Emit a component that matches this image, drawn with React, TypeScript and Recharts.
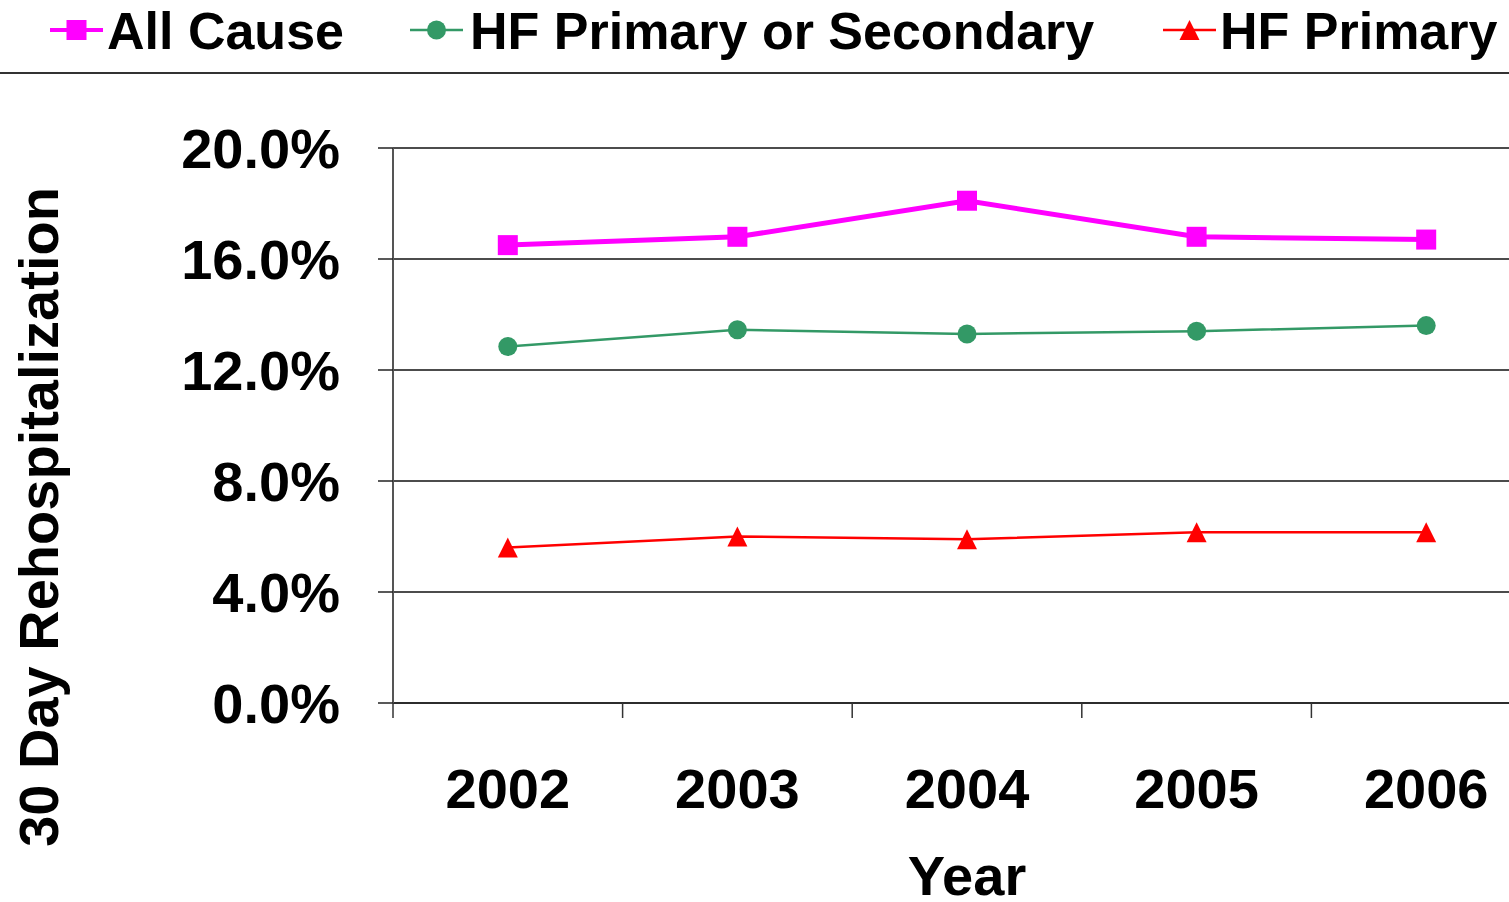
import { LineChart, Line, XAxis, YAxis, CartesianGrid } from 'recharts'

const YEARS = ['2002', '2003', '2004', '2005', '2006']
const ALL_CAUSE = [16.5, 16.8, 18.1, 16.8, 16.7]
const HF_PRIMARY_OR_SECONDARY = [12.85, 13.45, 13.3, 13.4, 13.6]
const HF_PRIMARY = [5.6, 6.0, 5.9, 6.15, 6.15]
const Y_TICKS = [0, 4, 8, 12, 16, 20]

type Shape = 'square' | 'circle' | 'triangle'

const SERIES: { key: string; name: string; color: string; shape: Shape; width: number }[] = [
  { key: 'allCause', name: 'All Cause', color: '#FF00FF', shape: 'square', width: 5 },
  { key: 'hfPrimOrSec', name: 'HF Primary or Secondary', color: '#339966', shape: 'circle', width: 2.5 },
  { key: 'hfPrimary', name: 'HF Primary', color: '#FF0000', shape: 'triangle', width: 2.5 },
]

const data = YEARS.map((year, i) => ({
  year,
  allCause: ALL_CAUSE[i],
  hfPrimOrSec: HF_PRIMARY_OR_SECONDARY[i],
  hfPrimary: HF_PRIMARY[i],
}))

// layout
const CHART_W = 1560
const CHART_H = 902
const PLOT_LEFT = 393
const PLOT_TOP = 148
const RIGHT_MARGIN = 19
const X_AXIS_H = 199
const BAND = (CHART_W - PLOT_LEFT - RIGHT_MARGIN) / YEARS.length
const TICK_SIZE = 15
const X_TICK_MARGIN = 50
const LEGEND_X = [50, 410, 1163]
const LEGEND_TEXT_X = [107, 470, 1220]

const FONT = '"Liberation Sans", Arial, sans-serif'

function Marker({ shape, cx, cy, color }: { shape: Shape; cx: number; cy: number; color: string }) {
  if (shape === 'square') return <rect x={cx - 10} y={cy - 10} width={20} height={20} fill={color} />
  if (shape === 'circle') return <circle cx={cx} cy={cy} r={9.5} fill={color} />
  return <polygon points={`${cx},${cy - 10} ${cx + 10},${cy + 10} ${cx - 10},${cy + 10}`} fill={color} />
}

function XTick(props: any) {
  const { x, y, payload } = props
  const left = x - BAND / 2
  const axisY = y - TICK_SIZE - X_TICK_MARGIN
  return (
    <g>
      <line x1={left} x2={left} y1={axisY} y2={axisY + TICK_SIZE} stroke="#333" strokeWidth={1.5} />
      <text x={x} y={y} dy="0.71em" textAnchor="middle" fontSize={56} fontWeight="bold" fill="#000" fontFamily={FONT}>
        {payload.value}
      </text>
    </g>
  )
}

function Legend() {
  return (
    <svg width={1509} height={80} style={{ position: 'absolute', left: 0, top: 0 }}>
      {SERIES.map((s, i) => (
        <g key={s.key}>
          <line x1={LEGEND_X[i]} x2={LEGEND_X[i] + 53} y1={30} y2={30} stroke={s.color} strokeWidth={s.shape === 'square' ? 4 : 2.5} />
          <Marker shape={s.shape} cx={LEGEND_X[i] + 26.5} cy={30} color={s.color} />
          <text x={LEGEND_TEXT_X[i]} y={49} fontSize={52} fontWeight="bold" fill="#000" fontFamily={FONT}>
            {s.name}
          </text>
        </g>
      ))}
      <line x1={0} x2={1509} y1={73} y2={73} stroke="#333" strokeWidth={2} />
    </svg>
  )
}

export default function App() {
  return (
    <div
      style={{
        position: 'absolute',
        left: 0,
        top: 0,
        width: 1509,
        height: 902,
        overflow: 'hidden',
        background: '#fff',
        fontFamily: FONT,
      }}
    >
      <LineChart
        width={CHART_W}
        height={CHART_H}
        data={data}
        margin={{ top: PLOT_TOP, right: RIGHT_MARGIN, bottom: 0, left: 0 }}
        style={{ position: 'absolute', left: 0, top: 0 }}
      >
        <CartesianGrid vertical={false} stroke="#111" strokeWidth={1.5} />
        <XAxis
          dataKey="year"
          scale="band"
          interval={0}
          height={X_AXIS_H}
          tickLine={false}
          tickSize={TICK_SIZE}
          tickMargin={X_TICK_MARGIN}
          axisLine={{ stroke: '#222', strokeWidth: 1.5 }}
          tick={<XTick />}
          label={{
            value: 'Year',
            position: 'insideBottom',
            offset: 7,
            fontSize: 56,
            fontWeight: 'bold',
            fill: '#000',
          }}
        />
        <YAxis
          width={PLOT_LEFT}
          domain={[0, 20]}
          ticks={Y_TICKS}
          interval={0}
          tickSize={TICK_SIZE}
          tickMargin={38}
          tickFormatter={(v: number) => `${v.toFixed(1)}%`}
          tickLine={{ stroke: '#222', strokeWidth: 1.5 }}
          axisLine={{ stroke: '#555', strokeWidth: 2 }}
          tick={{ fontSize: 56, fontWeight: 'bold', fill: '#000' }}
          label={{
            content: () => (
              <text
                key="ytitle"
                x={58}
                y={517}
                transform="rotate(-90 58 517)"
                textAnchor="middle"
                fontSize={56}
                fontWeight="bold"
                fill="#000"
                fontFamily={FONT}
              >
                30 Day Rehospitalization
              </text>
            ),
          }}
        />
        {SERIES.map((s) => (
          <Line
            key={s.key}
            dataKey={s.key}
            name={s.name}
            stroke={s.color}
            strokeWidth={s.width}
            isAnimationActive={false}
            dot={(p: any) => <Marker key={`${s.key}-${p.index}`} shape={s.shape} cx={p.cx} cy={p.cy} color={s.color} />}
            activeDot={false}
          />
        ))}
      </LineChart>
      <Legend />
    </div>
  )
}
